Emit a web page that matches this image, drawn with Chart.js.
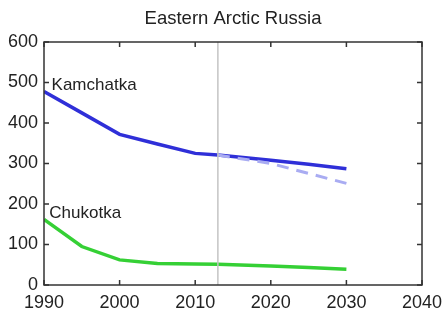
<!DOCTYPE html>
<html>
<head>
<meta charset="utf-8">
<script src="https://cdn.jsdelivr.net/npm/chart.js@4"></script>
<style>
  html, body { margin: 0; padding: 0; background: #fff; }
  #wrap { width: 444px; height: 309px; }
</style>
</head>
<body>
<div id="wrap"><canvas id="chart" width="444" height="309"></canvas></div>
<script>
// data
const years = [1990, 1995, 2000, 2005, 2010, 2013, 2020, 2025, 2030];
const kamchatka = [478, 425, 372, 348, 325, 321, 308, 298, 287];
const chukotka = [162, 95, 62, 53, 52, 51, 47, 43, 39];
const projYears = [2013, 2020, 2030];
const kamchatkaProj = [321, 300, 251];
const markerYear = 2013;
const xTicks = [1990, 2000, 2010, 2020, 2030, 2040];
const yTicks = [0, 100, 200, 300, 400, 500, 600];
const titleText = 'Eastern Arctic Russia';

const FONT = 'Helvetica, "Liberation Sans", Arial, sans-serif';

function pts(xs, ys) {
    return xs.map((x, i) => ({ x: x, y: ys[i] }));
}

// draws the box, inward ticks, title and region names
const boxPlugin = {
    id: 'box',
    afterDatasetsDraw(chart) {
        const ctx = chart.ctx;
        const a = chart.chartArea;
        const xs = chart.scales.x, ys = chart.scales.y;
        ctx.save();
        ctx.strokeStyle = '#333';
        ctx.lineWidth = 1.5;
        ctx.strokeRect(a.left, a.top, a.right - a.left, a.bottom - a.top);
        ctx.beginPath();
        xTicks.forEach(v => {
            const px = xs.getPixelForValue(v);
            ctx.moveTo(px, a.bottom); ctx.lineTo(px, a.bottom - 5);
            ctx.moveTo(px, a.top); ctx.lineTo(px, a.top + 5);
        });
        yTicks.forEach(v => {
            const py = ys.getPixelForValue(v);
            ctx.moveTo(a.left, py); ctx.lineTo(a.left + 5, py);
            ctx.moveTo(a.right, py); ctx.lineTo(a.right - 5, py);
        });
        ctx.stroke();

        ctx.fillStyle = '#222';
        ctx.textBaseline = 'middle';
        ctx.textAlign = 'center';
        ctx.font = '18.5px ' + FONT;
        ctx.fillText(titleText, (a.left + a.right) / 2, 19);

        ctx.font = '17px ' + FONT;
        ctx.textAlign = 'left';
        ctx.fillText('Kamchatka', xs.getPixelForValue(1991), ys.getPixelForValue(494));
        ctx.fillText('Chukotka', xs.getPixelForValue(1990.7), ys.getPixelForValue(178));
        ctx.restore();
    }
};

new Chart(document.getElementById('chart'), {
    type: 'line',
    data: {
        datasets: [
            {
                label: 'marker',
                data: [{ x: markerYear, y: 0 }, { x: markerYear, y: 600 }],
                borderColor: '#c4c4c4',
                borderWidth: 1.5,
                pointRadius: 0
            },
            {
                label: 'Kamchatka projection',
                data: pts(projYears, kamchatkaProj),
                borderColor: '#a9acf2',
                borderWidth: 3,
                borderDash: [12, 8],
                pointRadius: 0
            },
            {
                label: 'Kamchatka',
                data: pts(years, kamchatka),
                borderColor: '#2f2fd8',
                borderWidth: 3.5,
                pointRadius: 0
            },
            {
                label: 'Chukotka',
                data: pts(years, chukotka),
                borderColor: '#35d035',
                borderWidth: 3.5,
                pointRadius: 0
            }
        ]
    },
    options: {
        responsive: false,
        animation: false,
        layout: { padding: { left: 0, right: 22, top: 42, bottom: 0 } },
        plugins: {
            legend: { display: false },
            tooltip: { enabled: false },
            title: { display: false }
        },
        scales: {
            x: {
                type: 'linear',
                min: 1990,
                max: 2040,
                afterFit: s => { s.height = 24; s.paddingRight = 0; },
                afterBuildTicks: s => { s.ticks = xTicks.map(v => ({ value: v })); },
                grid: { display: false, drawTicks: false, tickLength: 0 },
                border: { display: false },
                ticks: {
                    color: '#222',
                    padding: 7,
                    font: { size: 18, family: FONT },
                    callback: v => String(v)
                }
            },
            y: {
                min: 0,
                max: 600,
                afterFit: s => { s.width = 44; s.paddingTop = 0; },
                afterBuildTicks: s => { s.ticks = yTicks.map(v => ({ value: v })); },
                grid: { display: false, drawTicks: false, tickLength: 0 },
                border: { display: false },
                ticks: {
                    color: '#222',
                    padding: 6,
                    font: { size: 18, family: FONT }
                }
            }
        }
    },
    plugins: [boxPlugin]
});
</script>
</body>
</html>
